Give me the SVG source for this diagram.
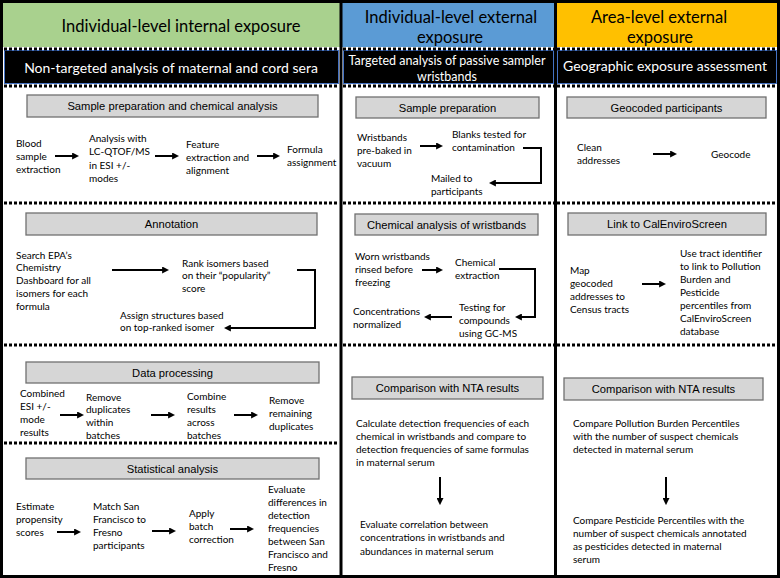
<svg xmlns="http://www.w3.org/2000/svg" width="780" height="578" viewBox="0 0 780 578">
<style>
.bg{fill:#fff}
.hd{font-family:Lato,"Liberation Sans",sans-serif;font-size:16.5px;fill:#000;text-anchor:middle}
.band{fill:#000;stroke:#4472C4;stroke-width:1}
.bt{font-family:Lato,"Liberation Sans",sans-serif;font-size:14px;fill:#fff;text-anchor:middle}
.bt2{font-family:Lato,"Liberation Sans",sans-serif;font-size:12.5px;fill:#fff;text-anchor:middle}
.dot{stroke:#000;stroke-width:3;stroke-dasharray:3 2;fill:none}
.col{stroke:#000;stroke-width:3;fill:none}
.tb{fill:#D6D6D6;stroke:#707070;stroke-width:1.3}
.tt{font-family:"Liberation Sans",Arial,sans-serif;font-size:11.2px;fill:#000;text-anchor:middle}
.t{font-family:Lato,"Liberation Sans",sans-serif;font-size:10px;fill:#000}
.ar{stroke:#000;stroke-width:2;fill:none}
</style>
<defs>
<marker id="ah" viewBox="0 0 10 10" refX="7" refY="5" markerWidth="7" markerHeight="7" markerUnits="userSpaceOnUse" orient="auto">
<path d="M0,0 L10,5 L0,10 z" fill="#000"/>
</marker>
</defs>
<rect class="bg" x="0" y="0" width="780" height="578"/>

<!-- headers -->
<g id="hdr-internal">
<rect x="3" y="3" width="337" height="44" fill="#A9D18E"/>
<text class="hd" x="181" y="32">Individual-level internal exposure</text>
</g>
<g id="hdr-external">
<rect x="342" y="3" width="213" height="44" fill="#5B9BD5"/>
<text class="hd" x="451" y="23">Individual-level external</text>
<text class="hd" x="450" y="43">exposure</text>
</g>
<g id="hdr-area">
<rect x="556" y="3" width="221" height="44" fill="#FFC000"/>
<text class="hd" x="659" y="23">Area-level external</text>
<text class="hd" x="660" y="43">exposure</text>
</g>

<g id="band-nta">
<rect class="band" x="4.5" y="50.5" width="334" height="33"/>
<text class="bt" x="171" y="73">Non-targeted analysis of maternal and cord sera</text>
</g>
<g id="band-wristbands">
<rect class="band" x="343.5" y="50.5" width="210" height="33"/>
<text class="bt2" x="447" y="64.5">Targeted analysis of passive sampler</text>
<text class="bt2" x="447" y="80.5">wristbands</text>
</g>
<g id="band-geo">
<rect class="band" x="557.5" y="50.5" width="219" height="33"/>
<text class="bt" x="665" y="71">Geographic exposure assessment</text>
</g>

<!-- dotted separators -->
<g id="separators">
<path class="dot" d="M4,49 H339 M343,49 H554 M557,49 H777"/>
<path class="dot" d="M4,86 H339 M343,86 H554 M557,86 H777"/>
<path class="dot" d="M4,203 H339 M343,203 H554 M557,203 H777"/>
<path class="dot" d="M4,345 H339 M343,345 H554 M557,345 H777"/>
<path class="dot" d="M4,443 H339"/>
</g>

<!-- column borders -->
<g id="frame">
<rect class="col" x="1.5" y="1.5" width="777" height="575"/>
<path class="col" d="M341,0 V578 M555.5,0 V578"/>
</g>

<!-- Left column -->
<g id="title-sampleprep"><rect class="tb" x="27" y="95" width="291" height="22"/><text class="tt" x="172.5" y="110">Sample preparation and chemical analysis</text></g>
<g id="n-blood"><text class="t" x="16" y="147"><tspan x="16">Blood</tspan><tspan x="16" dy="13">sample</tspan><tspan x="16" dy="13">extraction</tspan></text></g>
<g id="n-analysis"><text class="t" x="89" y="142"><tspan x="89">Analysis with</tspan><tspan x="89" dy="13.3">LC-QTOF/MS</tspan><tspan x="89" dy="13.3">in ESI +/-</tspan><tspan x="89" dy="13.3">modes</tspan></text></g>
<g id="n-feature"><text class="t" x="186" y="147.5"><tspan x="186">Feature</tspan><tspan x="186" dy="13">extraction and</tspan><tspan x="186" dy="13">alignment</tspan></text></g>
<g id="n-formula"><text class="t" x="287" y="152.5"><tspan x="287">Formula</tspan><tspan x="287" dy="13.5">assignment</tspan></text></g>

<g id="title-annotation"><rect class="tb" x="26" y="213" width="291" height="22"/><text class="tt" x="171.5" y="228">Annotation</text></g>
<g id="n-search"><text class="t" x="16" y="258.5"><tspan x="16">Search EPA’s</tspan><tspan x="16" dy="12.8">Chemistry</tspan><tspan x="16" dy="12.8">Dashboard for all</tspan><tspan x="16" dy="12.8">isomers for each</tspan><tspan x="16" dy="12.8">formula</tspan></text></g>
<g id="n-rank"><text class="t" x="182" y="266.5"><tspan x="182">Rank isomers based</tspan><tspan x="182" dy="12.5">on their “popularity”</tspan><tspan x="182" dy="12.5">score</tspan></text></g>
<g id="n-assign"><text class="t" x="120" y="318.5"><tspan x="120">Assign structures based</tspan><tspan x="120" dy="12.5">on top-ranked isomer</tspan></text></g>

<g id="title-dataproc"><rect class="tb" x="26" y="362" width="293" height="21"/><text class="tt" x="172.5" y="376.5">Data processing</text></g>
<g id="n-combined"><text class="t" x="20" y="396.5"><tspan x="20">Combined</tspan><tspan x="20" dy="13.2">ESI +/-</tspan><tspan x="20" dy="13.2">mode</tspan><tspan x="20" dy="13.2">results</tspan></text></g>
<g id="n-removedup"><text class="t" x="86" y="400.5"><tspan x="86">Remove</tspan><tspan x="86" dy="12.8">duplicates</tspan><tspan x="86" dy="12.8">within</tspan><tspan x="86" dy="12.8">batches</tspan></text></g>
<g id="n-combine"><text class="t" x="187" y="399.5"><tspan x="187">Combine</tspan><tspan x="187" dy="13">results</tspan><tspan x="187" dy="13">across</tspan><tspan x="187" dy="13">batches</tspan></text></g>
<g id="n-removerem"><text class="t" x="269" y="403.5"><tspan x="269">Remove</tspan><tspan x="269" dy="13">remaining</tspan><tspan x="269" dy="13">duplicates</tspan></text></g>

<g id="title-stats"><rect class="tb" x="26" y="458" width="293" height="21"/><text class="tt" x="172.5" y="472.5">Statistical analysis</text></g>
<g id="n-estimate"><text class="t" x="16" y="509.5"><tspan x="16">Estimate</tspan><tspan x="16" dy="13">propensity</tspan><tspan x="16" dy="13">scores</tspan></text></g>
<g id="n-match"><text class="t" x="93" y="509.5"><tspan x="93">Match San</tspan><tspan x="93" dy="13">Francisco to</tspan><tspan x="93" dy="13">Fresno</tspan><tspan x="93" dy="13">participants</tspan></text></g>
<g id="n-batch"><text class="t" x="189" y="516.5"><tspan x="189">Apply</tspan><tspan x="189" dy="13.3">batch</tspan><tspan x="189" dy="13.3">correction</tspan></text></g>
<g id="n-evaluate"><text class="t" x="268" y="492.5"><tspan x="268">Evaluate</tspan><tspan x="268" dy="13">differences in</tspan><tspan x="268" dy="13">detection</tspan><tspan x="268" dy="13">frequencies</tspan><tspan x="268" dy="13">between San</tspan><tspan x="268" dy="13">Francisco and</tspan><tspan x="268" dy="13">Fresno</tspan></text></g>

<!-- Middle column -->
<g id="title-mid-prep"><rect class="tb" x="356" y="97" width="183" height="21"/><text class="tt" x="447.5" y="111.5">Sample preparation</text></g>
<g id="n-prebaked"><text class="t" x="357" y="140.5"><tspan x="357">Wristbands</tspan><tspan x="357" dy="13">pre-baked in</tspan><tspan x="357" dy="13">vacuum</tspan></text></g>
<g id="n-blanks"><text class="t" x="452" y="137.5"><tspan x="452">Blanks tested for</tspan><tspan x="452" dy="13.5">contamination</tspan></text></g>
<g id="n-mailed"><text class="t" x="431" y="181.5"><tspan x="431">Mailed to</tspan><tspan x="431" dy="13">participants</tspan></text></g>

<g id="title-mid-chem"><rect class="tb" x="355" y="214" width="183" height="21"/><text class="tt" x="446.5" y="228.5">Chemical analysis of wristbands</text></g>
<g id="n-worn"><text class="t" x="355" y="259.5"><tspan x="355">Worn wristbands</tspan><tspan x="355" dy="13">rinsed before</tspan><tspan x="355" dy="13">freezing</tspan></text></g>
<g id="n-chemext"><text class="t" x="455" y="265.5"><tspan x="455">Chemical</tspan><tspan x="455" dy="13">extraction</tspan></text></g>
<g id="n-testing"><text class="t" x="459" y="310.5"><tspan x="459">Testing for</tspan><tspan x="459" dy="13">compounds</tspan><tspan x="459" dy="13">using GC-MS</tspan></text></g>
<g id="n-conc"><text class="t" x="353" y="314.5"><tspan x="353">Concentrations</tspan><tspan x="353" dy="13">normalized</tspan></text></g>

<g id="title-mid-comp"><rect class="tb" x="352" y="377" width="191" height="22"/><text class="tt" x="447.5" y="392">Comparison with NTA results</text></g>
<g id="n-calc"><text class="t" x="356" y="426.5"><tspan x="356">Calculate detection frequencies of each</tspan><tspan x="356" dy="13.3">chemical in wristbands and compare to</tspan><tspan x="356" dy="13.3">detection frequencies of same formulas</tspan><tspan x="356" dy="13.3">in maternal serum</tspan></text></g>
<g id="n-corr"><text class="t" x="360" y="527.5"><tspan x="360">Evaluate correlation between</tspan><tspan x="360" dy="13.5">concentrations in wristbands and</tspan><tspan x="360" dy="13.5">abundances in maternal serum</tspan></text></g>

<!-- Right column -->
<g id="title-geo"><rect class="tb" x="567" y="97" width="199" height="21"/><text class="tt" x="666.5" y="111.5">Geocoded participants</text></g>
<g id="n-clean"><text class="t" x="577" y="150.5"><tspan x="577">Clean</tspan><tspan x="577" dy="13.5">addresses</tspan></text></g>
<g id="n-geocode"><text class="t" x="711" y="157.5">Geocode</text></g>

<g id="title-ces"><rect class="tb" x="568" y="213" width="198" height="22"/><text class="tt" x="667" y="228">Link to CalEnviroScreen</text></g>
<g id="n-map"><text class="t" x="570" y="273.5"><tspan x="570">Map</tspan><tspan x="570" dy="13">geocoded</tspan><tspan x="570" dy="13">addresses to</tspan><tspan x="570" dy="13">Census tracts</tspan></text></g>
<g id="n-tract"><text class="t" x="680" y="256.5"><tspan x="680">Use tract identifier</tspan><tspan x="680" dy="13.1">to link to Pollution</tspan><tspan x="680" dy="13.1">Burden and</tspan><tspan x="680" dy="13.1">Pesticide</tspan><tspan x="680" dy="13.1">percentiles from</tspan><tspan x="680" dy="13.1">CalEnviroScreen</tspan><tspan x="680" dy="13.1">database</tspan></text></g>

<g id="title-right-comp"><rect class="tb" x="564" y="378" width="199" height="22"/><text class="tt" x="663.5" y="393">Comparison with NTA results</text></g>
<g id="n-pollution"><text class="t" x="573" y="426.5"><tspan x="573">Compare Pollution Burden Percentiles</tspan><tspan x="573" dy="13">with the number of suspect chemicals</tspan><tspan x="573" dy="13">detected in maternal serum</tspan></text></g>
<g id="n-pesticide"><text class="t" x="573" y="523.5"><tspan x="573">Compare Pesticide Percentiles with the</tspan><tspan x="573" dy="13">number of suspect chemicals annotated</tspan><tspan x="573" dy="13">as pesticides detected in maternal</tspan><tspan x="573" dy="13">serum</tspan></text></g>

<!-- connectors -->
<g id="connectors" class="ar" marker-end="url(#ah)">
<path class="ar" marker-end="url(#ah)" d="M55,156 H77"/>
<path class="ar" marker-end="url(#ah)" d="M155,156 H177"/>
<path class="ar" marker-end="url(#ah)" d="M257,156 H278"/>
<path class="ar" marker-end="url(#ah)" d="M112,270 H167"/>
<path class="ar" marker-end="url(#ah)" d="M297,270 H315 V328 H226"/>
<path class="ar" marker-end="url(#ah)" d="M60,415 H82"/>
<path class="ar" marker-end="url(#ah)" d="M151,415 H173"/>
<path class="ar" marker-end="url(#ah)" d="M234,415 H256"/>
<path class="ar" marker-end="url(#ah)" d="M57,532 H79"/>
<path class="ar" marker-end="url(#ah)" d="M152,531 H174"/>
<path class="ar" marker-end="url(#ah)" d="M230,529 H252"/>
<path class="ar" marker-end="url(#ah)" d="M420,146 H441"/>
<path class="ar" marker-end="url(#ah)" d="M523,148 H541 V183 H491"/>
<path class="ar" marker-end="url(#ah)" d="M422,270 H441"/>
<path class="ar" marker-end="url(#ah)" d="M499,269 H535 V317 H517"/>
<path class="ar" marker-end="url(#ah)" d="M452,317 H426"/>
<path class="ar" marker-end="url(#ah)" d="M440,477 V503"/>
<path class="ar" marker-end="url(#ah)" d="M653,154 H675"/>
<path class="ar" marker-end="url(#ah)" d="M642,284 H664"/>
<path class="ar" marker-end="url(#ah)" d="M666,477 V503"/>
</g>
</svg>
